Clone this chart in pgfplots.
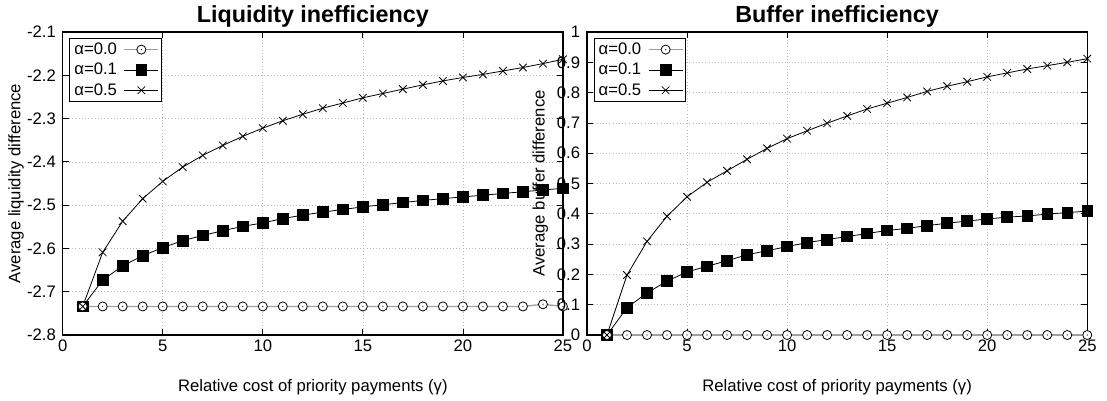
\documentclass[border=0pt]{standalone}
\usepackage{fontspec}
\setmainfont{Liberation Sans}
\usepackage{pgfplots}
\pgfplotsset{compat=1.18}

% open circle with a dot in the middle
\pgfdeclareplotmark{odot}{%
  \pgfpathcircle{\pgfpointorigin}{\pgfplotmarksize}%
  \pgfusepathqfillstroke
  \pgfscope
  \pgfsetfillcolor{black}%
  \pgfpathcircle{\pgfpointorigin}{0.45pt}%
  \pgfusepathqfill
  \endpgfscope}

\pgfplotsset{
  gp/.style={
    scale only axis, width=375.2pt, height=227.25pt,
    xmin=0, xmax=25, xtick={0,5,...,25}, xticklabels={0,5,10,15,20,25},
    grid=major, grid style={gray!55, dotted, line width=0.5pt},
    axis line style={line width=0.8pt},
    tick style={black, line width=0.6pt}, major tick length=4.5pt,
    tick label style={font=\fontsize{12.5}{14}\selectfont},
    label style={font=\fontsize{12.5}{14}\selectfont},
    title style={font=\fontsize{17.5}{20}\selectfont\bfseries,
      at={(axis description cs:0.5,1.0242)}, anchor=center},
    xlabel style={at={(axis description cs:0.5,-0.1707)}, anchor=center},
    ylabel style={at={(axis description cs:-0.0933,0.5)}, anchor=center},
    yticklabel style={xshift=-1.6pt},
    legend style={at={(0,1)}, anchor=north west, xshift=5pt, yshift=-4.3pt,
      draw=black, line width=0.6pt, fill=white,
      font=\fontsize{12.5}{14}\selectfont, row sep=1pt, inner sep=1.5pt,
      /tikz/every odd column/.append style={column sep=3pt}},
    legend cell align=right,
    legend plot pos=right,
    legend image code/.code={\draw[mark repeat=2, mark phase=2]
      plot coordinates {(0cm,0cm) (0.45cm,0cm) (0.9cm,0cm)};},
  },
  a0/.style={gray!75, line width=1pt, mark=odot, mark size=3.4pt,
    mark options={draw=black, fill=white, line width=0.6pt}},
  a1/.style={black, line width=0.6pt, mark=square*, mark size=4pt,
    mark options={fill=black}},
  a5/.style={black, line width=0.6pt, mark=x, mark size=4pt},
}

\begin{document}
\begin{tikzpicture}
\useasboundingbox (-47pt,-48.75pt) rectangle (783.2pt,251.25pt);

\begin{axis}[gp, at={(0,0)}, anchor=south west,
  title={Liquidity inefficiency},
  xlabel={Relative cost of priority payments (γ)},
  ylabel={Average liquidity difference},
  ymin=-2.8, ymax=-2.1, ytick={-2.8,-2.7,...,-2.1},
  yticklabels={-2.8,-2.7,-2.6,-2.5,-2.4,-2.3,-2.2,-2.1}]
\addplot[a0] coordinates {
(1,-2.734) (2,-2.734) (3,-2.734) (4,-2.734) (5,-2.734) (6,-2.734) (7,-2.734)
(8,-2.734) (9,-2.734) (10,-2.734) (11,-2.734) (12,-2.734) (13,-2.734)
(14,-2.734) (15,-2.734) (16,-2.734) (17,-2.734) (18,-2.734) (19,-2.734)
(20,-2.734) (21,-2.734) (22,-2.734) (23,-2.734) (24,-2.729) (25,-2.734)};
\addplot[a1] coordinates {
(1,-2.734) (2,-2.673) (3,-2.640) (4,-2.617) (5,-2.598) (6,-2.582) (7,-2.570)
(8,-2.559) (9,-2.549) (10,-2.541) (11,-2.531) (12,-2.523) (13,-2.516)
(14,-2.510) (15,-2.504) (16,-2.499) (17,-2.494) (18,-2.489) (19,-2.485)
(20,-2.481) (21,-2.477) (22,-2.473) (23,-2.469) (24,-2.465) (25,-2.461)};
\addplot[a0, forget plot] coordinates {(1,-2.734)};
\addplot[a5] coordinates {
(1,-2.734) (2,-2.609) (3,-2.537) (4,-2.485) (5,-2.445) (6,-2.412) (7,-2.385)
(8,-2.362) (9,-2.341) (10,-2.322) (11,-2.305) (12,-2.290) (13,-2.276)
(14,-2.264) (15,-2.252) (16,-2.242) (17,-2.232) (18,-2.222) (19,-2.213)
(20,-2.205) (21,-2.198) (22,-2.190) (23,-2.182) (24,-2.173) (25,-2.163)};
\legend{α=0.0,α=0.1,α=0.5}
\end{axis}

\begin{axis}[gp, at={(393.2pt,0)}, anchor=south west,
  title={Buffer inefficiency},
  xlabel={Relative cost of priority payments (γ)},
  ylabel={Average buffer difference},
  ymin=0, ymax=1, ytick={0,0.1,...,1},
  yticklabels={0,0.1,0.2,0.3,0.4,0.5,0.6,0.7,0.8,0.9,1}]
\addplot[a0] coordinates {
(1,0) (2,0) (3,0) (4,0) (5,0) (6,0) (7,0) (8,0) (9,0) (10,0) (11,0) (12,0)
(13,0) (14,0) (15,0) (16,0) (17,0) (18,0) (19,0) (20,0) (21,0) (22,0) (23,0)
(24,0) (25,0)};
\addplot[a1] coordinates {
(1,0) (2,0.090) (3,0.139) (4,0.178) (5,0.208) (6,0.227) (7,0.245) (8,0.265)
(9,0.278) (10,0.292) (11,0.305) (12,0.315) (13,0.325) (14,0.335) (15,0.345)
(16,0.352) (17,0.361) (18,0.369) (19,0.376) (20,0.383) (21,0.389) (22,0.393)
(23,0.399) (24,0.404) (25,0.409)};
\addplot[a0, forget plot] coordinates {(1,0)};
\addplot[a5] coordinates {
(1,0) (2,0.198) (3,0.309) (4,0.392) (5,0.456) (6,0.504) (7,0.542) (8,0.580)
(9,0.616) (10,0.648) (11,0.674) (12,0.699) (13,0.723) (14,0.746) (15,0.765)
(16,0.784) (17,0.804) (18,0.821) (19,0.836) (20,0.852) (21,0.865) (22,0.878)
(23,0.889) (24,0.900) (25,0.912)};
\legend{α=0.0,α=0.1,α=0.5}
\end{axis}
\end{tikzpicture}
\end{document}
